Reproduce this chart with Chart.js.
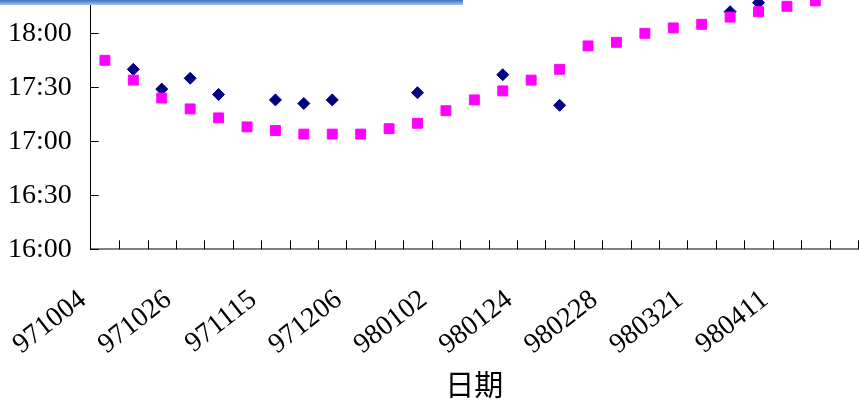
<!DOCTYPE html>
<html>
<head>
<meta charset="utf-8">
<script src="https://cdn.jsdelivr.net/npm/chart.js@4/dist/chart.umd.min.js"></script>
<style>
  html, body { margin: 0; padding: 0; background: #fff; overflow: hidden; }
  body { width: 859px; height: 406px; position: relative; }
  #wrap { position: absolute; left: 0; top: -40px; width: 866px; height: 446px; }
  #bar { position: absolute; left: 0; top: 0; width: 463px; height: 5px;
         background: linear-gradient(to bottom, #3f72bd 0%, #6f9bd8 50%, #a8c4ea 100%); z-index: 2; }
</style>
</head>
<body>
<div id="bar"></div>
<div id="wrap"><canvas id="c" width="866" height="446"></canvas></div>
<script>
// Categories (dates); only every third one is labelled in the picture
const categories = ['971004','','','971026','','','971115','','','971206','','','980102','','',
                    '980124','','','980228','','','980321','','','980411','',''];
// Pink squares series (time of day)
const pinkTimes = ['17:45','17:34','17:24','17:18','17:13','17:08','17:06','17:04','17:04','17:04',
                   '17:07','17:10','17:17','17:23','17:28','17:34','17:40','17:53','17:55','18:00',
                   '18:03','18:05','18:09','18:12','18:15','18:18',null];
// Navy diamonds series (time of day)
const navyTimes = [null,'17:40','17:29','17:35','17:26',null,'17:23','17:21','17:23',null,
                   null,'17:27',null,null,'17:37',null,'17:20',null,null,null,
                   null,null,'18:12','18:17',null,null,null];
// Y-axis ticks
const yTickLabels = ['16:00','16:30','17:00','17:30','18:00','18:30'];

const toMin = s => { if (s === null) return null; const [h, m] = s.split(':').map(Number); return h * 60 + m; };
const fmt = v => { const h = Math.floor(v / 60), m = Math.round(v - h * 60); return h + ':' + String(m).padStart(2, '0'); };

const yMin = toMin(yTickLabels[0]);
const yMax = toMin(yTickLabels[yTickLabels.length - 1]);

const innerTicks = {
  id: 'innerTicks',
  afterDraw(chart) {
    const ctx = chart.ctx, x = chart.scales.x, y = chart.scales.y;
    const area = chart.chartArea;
    ctx.save();
    ctx.strokeStyle = '#000';
    ctx.lineWidth = 1;
    y.ticks.forEach(t => {
      const py = Math.round(y.getPixelForValue(t.value)) + 0.5;
      ctx.beginPath();
      ctx.moveTo(area.left, py);
      ctx.lineTo(area.left + 8, py);
      ctx.stroke();
    });
    const step = x.getPixelForTick(1) - x.getPixelForTick(0);
    for (let i = 1; i <= categories.length; i++) {
      const px = Math.round(x.getPixelForTick(0) - step / 2 + i * step) + 0.5;
      ctx.beginPath();
      ctx.moveTo(px, area.bottom);
      ctx.lineTo(px, area.bottom - 9);
      ctx.stroke();
    }
    ctx.restore();
  }
};

new Chart(document.getElementById('c'), {
  type: 'line',
  data: {
    labels: categories,
    datasets: [
      {
        label: 'pink',
        data: pinkTimes.map(toMin),
        showLine: false,
        pointStyle: 'rect',
        pointRadius: 7,
        pointBackgroundColor: '#ff00ff',
        pointBorderColor: '#ff00ff',
        pointBorderWidth: 1
      },
      {
        label: 'navy',
        data: navyTimes.map(toMin),
        showLine: false,
        pointStyle: 'rectRot',
        pointRadius: 6,
        pointBackgroundColor: '#000080',
        pointBorderColor: '#000080',
        pointBorderWidth: 1
      }
    ]
  },
  options: {
    responsive: false,
    animation: false,
    events: [],
    layout: { padding: { top: 19.3, right: 0, bottom: 0, left: 0 } },
    plugins: { legend: { display: false }, tooltip: { enabled: false } },
    clip: false,
    scales: {
      x: {
        offset: true,
        grid: { display: false, offset: true },
        border: { display: true, color: '#808080', width: 2 },
        ticks: {
          autoSkip: false,
          minRotation: 38,
          maxRotation: 38,
          padding: 26,
          labelOffset: -22,
          color: '#000',
          font: { family: '"Liberation Serif", serif', size: 28 }
        },
        title: {
          display: true,
          text: '日期',
          color: '#000',
          padding: { top: 0, bottom: 4 },
          font: { family: '"Noto Sans CJK TC", sans-serif', size: 29 }
        },
        afterFit(scale) {
          scale.height = 156.7;
          scale.paddingLeft = 0; scale.paddingRight = 0;
          scale.paddingTop = 0; scale.paddingBottom = 0;
        }
      },
      y: {
        min: yMin,
        max: yMax,
        grid: { display: false, drawTicks: false },
        border: { display: true, color: '#000', width: 1 },
        ticks: {
          stepSize: 30,
          padding: 19,
          color: '#000',
          font: { family: '"Liberation Serif", serif', size: 28 },
          callback: v => fmt(v)
        },
        afterFit(scale) {
          scale.width = 90.7;
          scale.paddingLeft = 0; scale.paddingRight = 0;
          scale.paddingTop = 0; scale.paddingBottom = 0;
        }
      }
    }
  },
  plugins: [innerTicks]
});
</script>
</body>
</html>
